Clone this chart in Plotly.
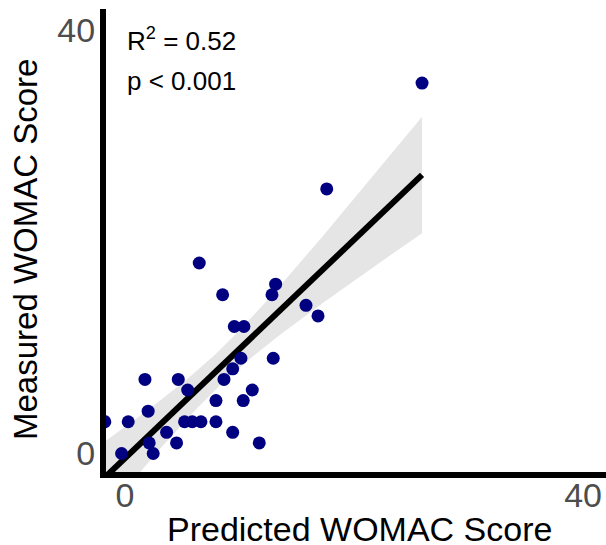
import numpy as np
import plotly.graph_objects as go

# Data
predicted = [6.49, 8.53, 13.16, 12.84, 15.81, 16.86, 9.55, 10.39, 10.13, 12.95,
             9.41, 8.65, 11.12, 1.75, 4.66, 5.48, 7.95, 10.33, 2.03, -1.75,
             0.29, 5.21, 5.88, 6.64, 7.95, 3.64, 2.12, 4.51, 9.41, 11.73,
             2.47, -0.29, 25.94, 17.62]
measured = [18, 15, 16, 15, 14, 13, 12, 12, 9, 9,
            8, 7, 6, 7, 7, 6, 5, 5, 4, 3,
            3, 3, 3, 3, 3, 2, 1, 1, 2, 1,
            0, 0, 35, 25]
tick_vals = [0, 40]
tick_text = ["0", "40"]
stats_r2 = "R<sup>2</sup> = 0.52"
stats_p = "p < 0.001"
x_title = "Predicted WOMAC Score"
y_title = "Measured WOMAC Score"

# Linear fit with 95% confidence band
x = np.array(predicted, dtype=float)
y = np.array(measured, dtype=float)
n = len(x)
slope, intercept = np.polyfit(x, y, 1)
resid = y - (slope * x + intercept)
s = np.sqrt(np.sum(resid ** 2) / (n - 2))
xbar = x.mean()
sxx = np.sum((x - xbar) ** 2)
t_crit = 2.0369  # t(0.975, df=32)
xs = np.linspace(x.min(), x.max(), 100)
ys = slope * xs + intercept
se = s * np.sqrt(1.0 / n + (xs - xbar) ** 2 / sxx)
upper = ys + t_crit * se
lower = ys - t_crit * se

fig = go.Figure()
fig.add_trace(go.Scatter(x=xs, y=lower, mode="lines", line=dict(width=0),
                         showlegend=False, hoverinfo="skip"))
fig.add_trace(go.Scatter(x=xs, y=upper, mode="lines", line=dict(width=0),
                         fill="tonexty", fillcolor="rgba(229,229,229,1)",
                         showlegend=False, hoverinfo="skip"))
fig.add_trace(go.Scatter(x=xs, y=ys, mode="lines",
                         line=dict(color="black", width=6), showlegend=False))
fig.add_trace(go.Scatter(x=predicted, y=measured, mode="markers",
                         marker=dict(color="#000080", size=13),
                         showlegend=False))

W, H = 606, 545
ml, mr, mt, mb = 106, 0, 9, 73
pw, ph = W - ml - mr, H - mt - mb

def px(xp):
    return (xp - ml) / pw

def py(yp):
    return (H - mb - yp) / ph

axis_common = dict(
    tickvals=tick_vals, ticktext=tick_text,
    showgrid=False, zeroline=False, showline=True, linecolor="black",
    linewidth=6, ticks="", tickfont=dict(size=34, color="#4D4D4D"),
)
fig.update_layout(
    width=W, height=H,
    margin=dict(l=ml, r=mr, t=mt, b=mb),
    plot_bgcolor="white", paper_bgcolor="white",
    font=dict(family="Arial, Liberation Sans, sans-serif", color="black"),
    xaxis=dict(range=[-1.65, 42.0], ticklabelstandoff=-12, **axis_common),
    yaxis=dict(range=[-1.75, 42.0], ticklabelstandoff=-2, **axis_common),
)

fig.add_annotation(text=stats_r2, xref="paper", yref="paper",
                   x=px(125), y=py(39), xanchor="left", yanchor="middle",
                   showarrow=False, font=dict(size=26, color="black"))
fig.add_annotation(text=stats_p, xref="paper", yref="paper",
                   x=px(125), y=py(81), xanchor="left", yanchor="middle",
                   showarrow=False, font=dict(size=26, color="black"))
fig.add_annotation(text=x_title, xref="paper", yref="paper",
                   x=px(359), y=py(529), xanchor="center", yanchor="middle",
                   showarrow=False, font=dict(size=34, color="black"))
fig.add_annotation(text=y_title, xref="paper", yref="paper",
                   x=px(25), y=py(250), xanchor="center", yanchor="middle",
                   textangle=-90, showarrow=False,
                   font=dict(size=33, color="black"))

fig.write_html("out.html")
